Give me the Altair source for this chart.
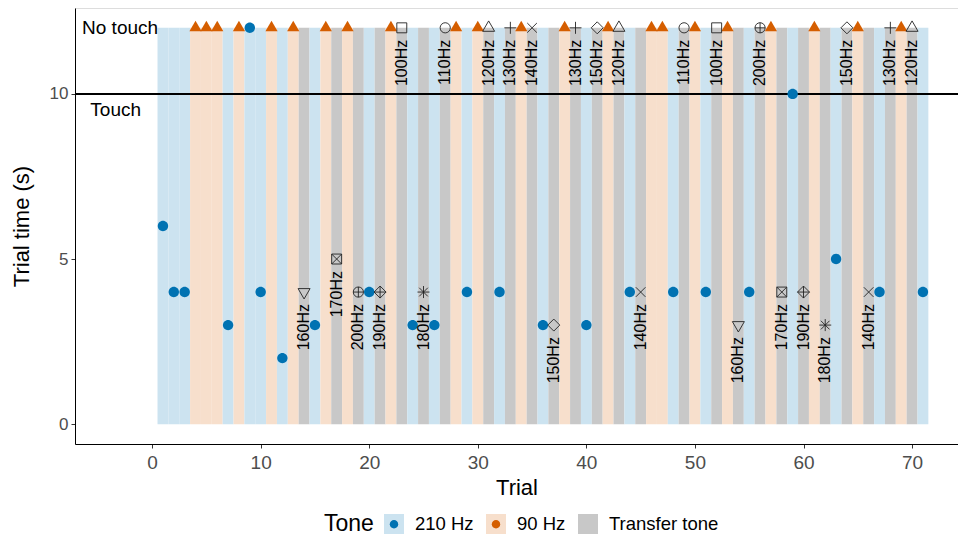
import altair as alt
import pandas as pd

# ---------------- data ----------------
trials = list(range(1, 72))
# B = 210 Hz, O = 90 Hz, T = transfer tone
kinds = list("BBBOOOBOBB" "OBOTBOTOTB" "TOTBTBTOBO" "TBTOTBTOTB"
             "TOTBTOOBTO" "BTOTBTOTBT" "OTBTOTBTOT" "B")
# trial time (s); 12 = "No touch"
times = [6, 4, 4, 12, 12, 12, 3, 12, 12, 4,
         12, 2, 12, 4, 3, 12, 5, 12, 4, 4,
         4, 12, 12, 3, 4, 3, 12, 12, 4, 12,
         12, 4, 12, 12, 12, 3, 3, 12, 12, 3,
         12, 12, 12, 4, 4, 12, 12, 4, 12, 12,
         4, 12, 12, 3, 4, 12, 12, 4, 10, 4,
         12, 3, 5, 12, 12, 4, 4, 12, 12, 12,
         4]
transfer_trials = [14, 17, 19, 21, 23, 25, 27, 31, 33, 35, 37, 39, 41, 43, 45,
                   49, 52, 54, 56, 58, 60, 62, 64, 66, 68, 70]
transfer_hz = [160, 170, 200, 190, 100, 180, 110, 120, 130, 140, 150, 130, 150,
               120, 140, 110, 100, 160, 200, 170, 190, 180, 150, 140, 130, 120]
tone_names = {"B": "210 Hz", "O": "90 Hz", "T": "Transfer tone"}
note_text = ["No touch", "Touch"]
note_x = [-2.95, -3.35]
note_y = [12, 9.5]
x_ticks = [0, 10, 20, 30, 40, 50, 60, 70]
y_ticks = [0, 5, 10]

# ---------------- tables ----------------
df = pd.DataFrame({"trial": trials,
                   "tone": [tone_names[k] for k in kinds],
                   "time": times})
df_tone = df[df["tone"] != "Transfer tone"]
time_of = dict(zip(trials, times))
df_tr = pd.DataFrame({"trial": transfer_trials,
                      "time": [time_of[t] for t in transfer_trials],
                      "label": [f"{h}Hz" for h in transfer_hz]})
df_note = pd.DataFrame({"text": note_text, "x": note_x, "y": note_y})

# ---------------- styling ----------------
FONT = "Liberation Sans"
BLUE, ORANGE = "#0072B2", "#D55E00"
BG = ["#CCE3F0", "#F7DFCC", "#C8C8C8"]

xscale = alt.Scale(domain=[-7.1, 74.23], nice=False, zero=False)
yscale = alt.Scale(domain=[-0.6, 12.6], nice=False, zero=False)
xaxis = alt.Axis(values=x_ticks, title="Trial", grid=False, labelFontSize=19,
                 titleFontSize=22, labelPadding=5, titlePadding=5, tickSize=4,
                 labelColor="#4D4D4D", tickColor="#333333", domainColor="black",
                 titleColor="black", titleFontWeight="normal", labelFont=FONT,
                 titleFont=FONT)
yaxis = alt.Axis(values=y_ticks, title="Trial time (s)", grid=False,
                 labelFontSize=17, titleFontSize=22, labelPadding=3,
                 titlePadding=16, tickSize=4, labelColor="#4D4D4D",
                 tickColor="#333333", domainColor="black", titleColor="black",
                 titleFontWeight="normal", labelFont=FONT, titleFont=FONT)

circ = "M-0.85,0A0.85,0.85,0,1,1,0.85,0A0.85,0.85,0,1,1,-0.85,0Z"
tri_up = "M0,-1.15L1,0.58L-1,0.58Z"
tri_dn = "M0,1.15L1,-0.58L-1,-0.58Z"
small_dot = "M-0.42,0A0.42,0.42,0,1,1,0.42,0A0.42,0.42,0,1,1,-0.42,0Z"
shape_map = {
    "100Hz": "M-0.83,-0.83H0.83V0.83H-0.83Z",
    "110Hz": circ,
    "120Hz": tri_up,
    "130Hz": "M-1,0H1M0,-1V1",
    "140Hz": "M-0.8,-0.8L0.8,0.8M-0.8,0.8L0.8,-0.8",
    "150Hz": "M0,-1L1,0L0,1L-1,0Z",
    "160Hz": tri_dn,
    "170Hz": "M-0.83,-0.83H0.83V0.83H-0.83ZM-0.83,-0.83L0.83,0.83M-0.83,0.83L0.83,-0.83",
    "180Hz": "M-1,0H1M0,-1V1M-0.72,-0.72L0.72,0.72M-0.72,0.72L0.72,-0.72",
    "190Hz": "M0,-1L1,0L0,1L-1,0ZM-1,0H1M0,-1V1",
    "200Hz": circ + "M-0.85,0H0.85M0,-0.85V0.85",
}

leg_common = dict(orient="none", legendX=249, legendY=506, direction="horizontal",
                  titleOrient="left", titleAnchor="middle", symbolSize=400,
                  symbolStrokeWidth=0, symbolOpacity=1, labelOffset=11,
                  columnPadding=12, titlePadding=10, padding=0, labelFontSize=18.5,
                  titleFontSize=23, titleFontWeight="normal", labelFont=FONT,
                  titleFont=FONT, title="Tone")

# ---------------- layers ----------------
bg = alt.Chart(df).transform_calculate(
    x0="datum.trial - 0.5", x1="datum.trial + 0.5"
).mark_rect(opacity=1).encode(
    x=alt.X("x0:Q", scale=xscale, axis=xaxis),
    x2="x1:Q",
    y=alt.YDatum(0, scale=yscale, axis=yaxis),
    y2=alt.datum(12),
    color=alt.Color("tone:N",
                    scale=alt.Scale(domain=["210 Hz", "90 Hz", "Transfer tone"], range=BG),
                    legend=alt.Legend(symbolType="square", labelColor="black",
                                      titleColor="black", **leg_common)),
)

rule = alt.Chart(df_note).mark_rule(color="black", strokeWidth=2).encode(
    y=alt.datum(10)
)

pts = alt.Chart(df_tone).mark_point(filled=True, opacity=1, size=150, strokeWidth=0).encode(
    x=alt.X("trial:Q", scale=xscale, axis=xaxis),
    y=alt.Y("time:Q", scale=yscale, axis=yaxis),
    fill=alt.Fill("tone:N", scale=alt.Scale(domain=["210 Hz", "90 Hz"], range=[BLUE, ORANGE]),
                  legend=alt.Legend(symbolType=small_dot, labelColor="transparent",
                                    titleColor="transparent", **leg_common)),
    shape=alt.Shape("tone:N", scale=alt.Scale(domain=["210 Hz", "90 Hz"], range=[circ, tri_up]),
                    legend=None),
)

tr_pts = alt.Chart(df_tr).mark_point(filled=False, opacity=1, size=144, stroke="#222222",
                                     strokeWidth=0.9).encode(
    x=alt.X("trial:Q", scale=xscale, axis=xaxis),
    y=alt.Y("time:Q", scale=yscale, axis=yaxis),
    shape=alt.Shape("label:N", scale=alt.Scale(domain=list(shape_map.keys()),
                                               range=list(shape_map.values())),
                    legend=None),
)

tr_txt = alt.Chart(df_tr).mark_text(angle=270, align="right", baseline="middle", dx=-12,
                                    fontSize=16, font=FONT, color="black").encode(
    x=alt.X("trial:Q", scale=xscale, axis=xaxis),
    y=alt.Y("time:Q", scale=yscale, axis=yaxis),
    text="label:N",
)

notes = alt.Chart(df_note).mark_text(align="center", baseline="middle", fontSize=19,
                                     font=FONT, color="black").encode(
    x=alt.X("x:Q", scale=xscale, axis=xaxis),
    y=alt.Y("y:Q", scale=yscale, axis=yaxis),
    text="text:N",
)

chart = alt.layer(bg, rule, pts, tr_pts, tr_txt, notes).resolve_scale(
    shape="independent"
).properties(
    width=883, height=436,
    autosize=alt.AutoSizeParams(type="none"),
    padding={"left": 67, "top": 0, "right": 0, "bottom": 92},
).configure_view(stroke=None).configure(font=FONT)

chart.save("out.html", embed_options={"renderer": "svg", "actions": False})
